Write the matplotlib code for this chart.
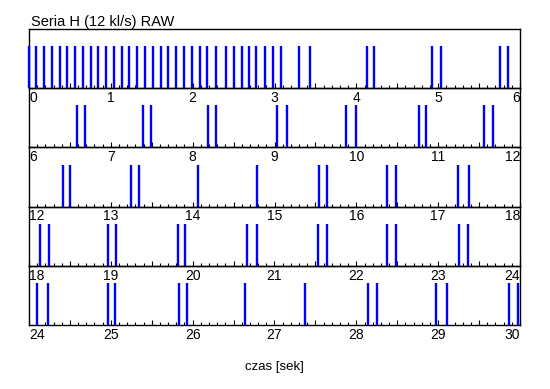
import numpy as np
import matplotlib
matplotlib.use('Agg')
import matplotlib.pyplot as plt

plt.rcParams['font.family'] = ['Liberation Sans', 'DejaVu Sans']
plt.rcParams['font.size'] = 9

# event times [s], one list per 6-second row
row1 = [0.004, 0.086, 0.183, 0.277, 0.375, 0.468, 0.562, 0.656, 0.754, 0.847,
        0.941, 1.039, 1.133, 1.226, 1.324, 1.418, 1.512, 1.610, 1.703, 1.797,
        1.895, 1.990, 2.090, 2.180, 2.286, 2.405, 2.510, 2.600, 2.690, 2.775,
        2.885, 2.987, 3.080, 3.300, 3.435, 4.128, 4.214, 4.927, 5.033, 5.758,
        5.856]
row2 = [6.587, 6.685, 7.394, 7.488, 8.188, 8.286, 9.028, 9.150, 9.875, 9.998,
        10.768, 10.850, 11.560, 11.670]
row3 = [12.416, 12.500, 13.247, 13.340, 14.066, 14.787, 15.545, 15.643,
        16.376, 16.486, 17.244, 17.379]
row4 = [18.134, 18.244, 18.966, 19.064, 19.820, 19.907, 20.665, 20.787,
        21.533, 21.643, 22.376, 22.486, 23.257, 23.367]
row5 = [24.094, 24.228, 24.962, 25.051, 25.834, 25.928, 26.640, 27.374,
        28.140, 28.250, 28.976, 29.106, 29.868, 29.980]

rows = [row1, row2, row3, row4, row5]
row_len = 6
bar_height = 0.71

fig = plt.figure(figsize=(5.5, 3.89), dpi=100)

left, right = 29 / 550, 520 / 550
top, bottom = 1 - 29 / 389, 1 - 325 / 389
h = (top - bottom) / len(rows)

for i, ev in enumerate(rows):
    t0 = i * row_len
    t1 = t0 + row_len
    ax = fig.add_axes([left, top - (i + 1) * h, right - left, h])
    ax.vlines(ev, 0, bar_height, color='#0000ff', linewidth=1.7,
              zorder=3, clip_on=False)
    ax.set_xlim(t0, t1)
    ax.set_ylim(0, 1)
    ax.set_yticks([])

    major = np.arange(t0, t1 + 0.01, 0.5)
    labels = ['%d' % m if abs(m - round(m)) < 1e-6 else '' for m in major]
    ax.set_xticks(major, labels=labels)
    ax.set_xticks(np.arange(t0, t1 + 0.01, 0.1), minor=True)
    ax.tick_params(axis='x', which='major', direction='in', length=3.8,
                   width=0.8, pad=2, labelsize=10)
    ax.tick_params(axis='x', which='minor', direction='in', length=2,
                   width=0.8)
    tl = ax.get_xticklabels()
    tl[0].set_ha('left')
    tl[-1].set_ha('right')

    for sp in ax.spines.values():
        sp.set_linewidth(1.0)
        sp.set_color('black')
    ax.patch.set_alpha(0)

fig.text(31 / 550, 1 - 26 / 389, 'Seria H (12 kl/s) RAW', ha='left',
         va='baseline', fontsize=10.5)
fig.text((left + right) / 2, 1 - 370 / 389, 'czas [sek]', ha='center',
         va='baseline', fontsize=9.5)

fig.savefig('out.png', dpi=100)
